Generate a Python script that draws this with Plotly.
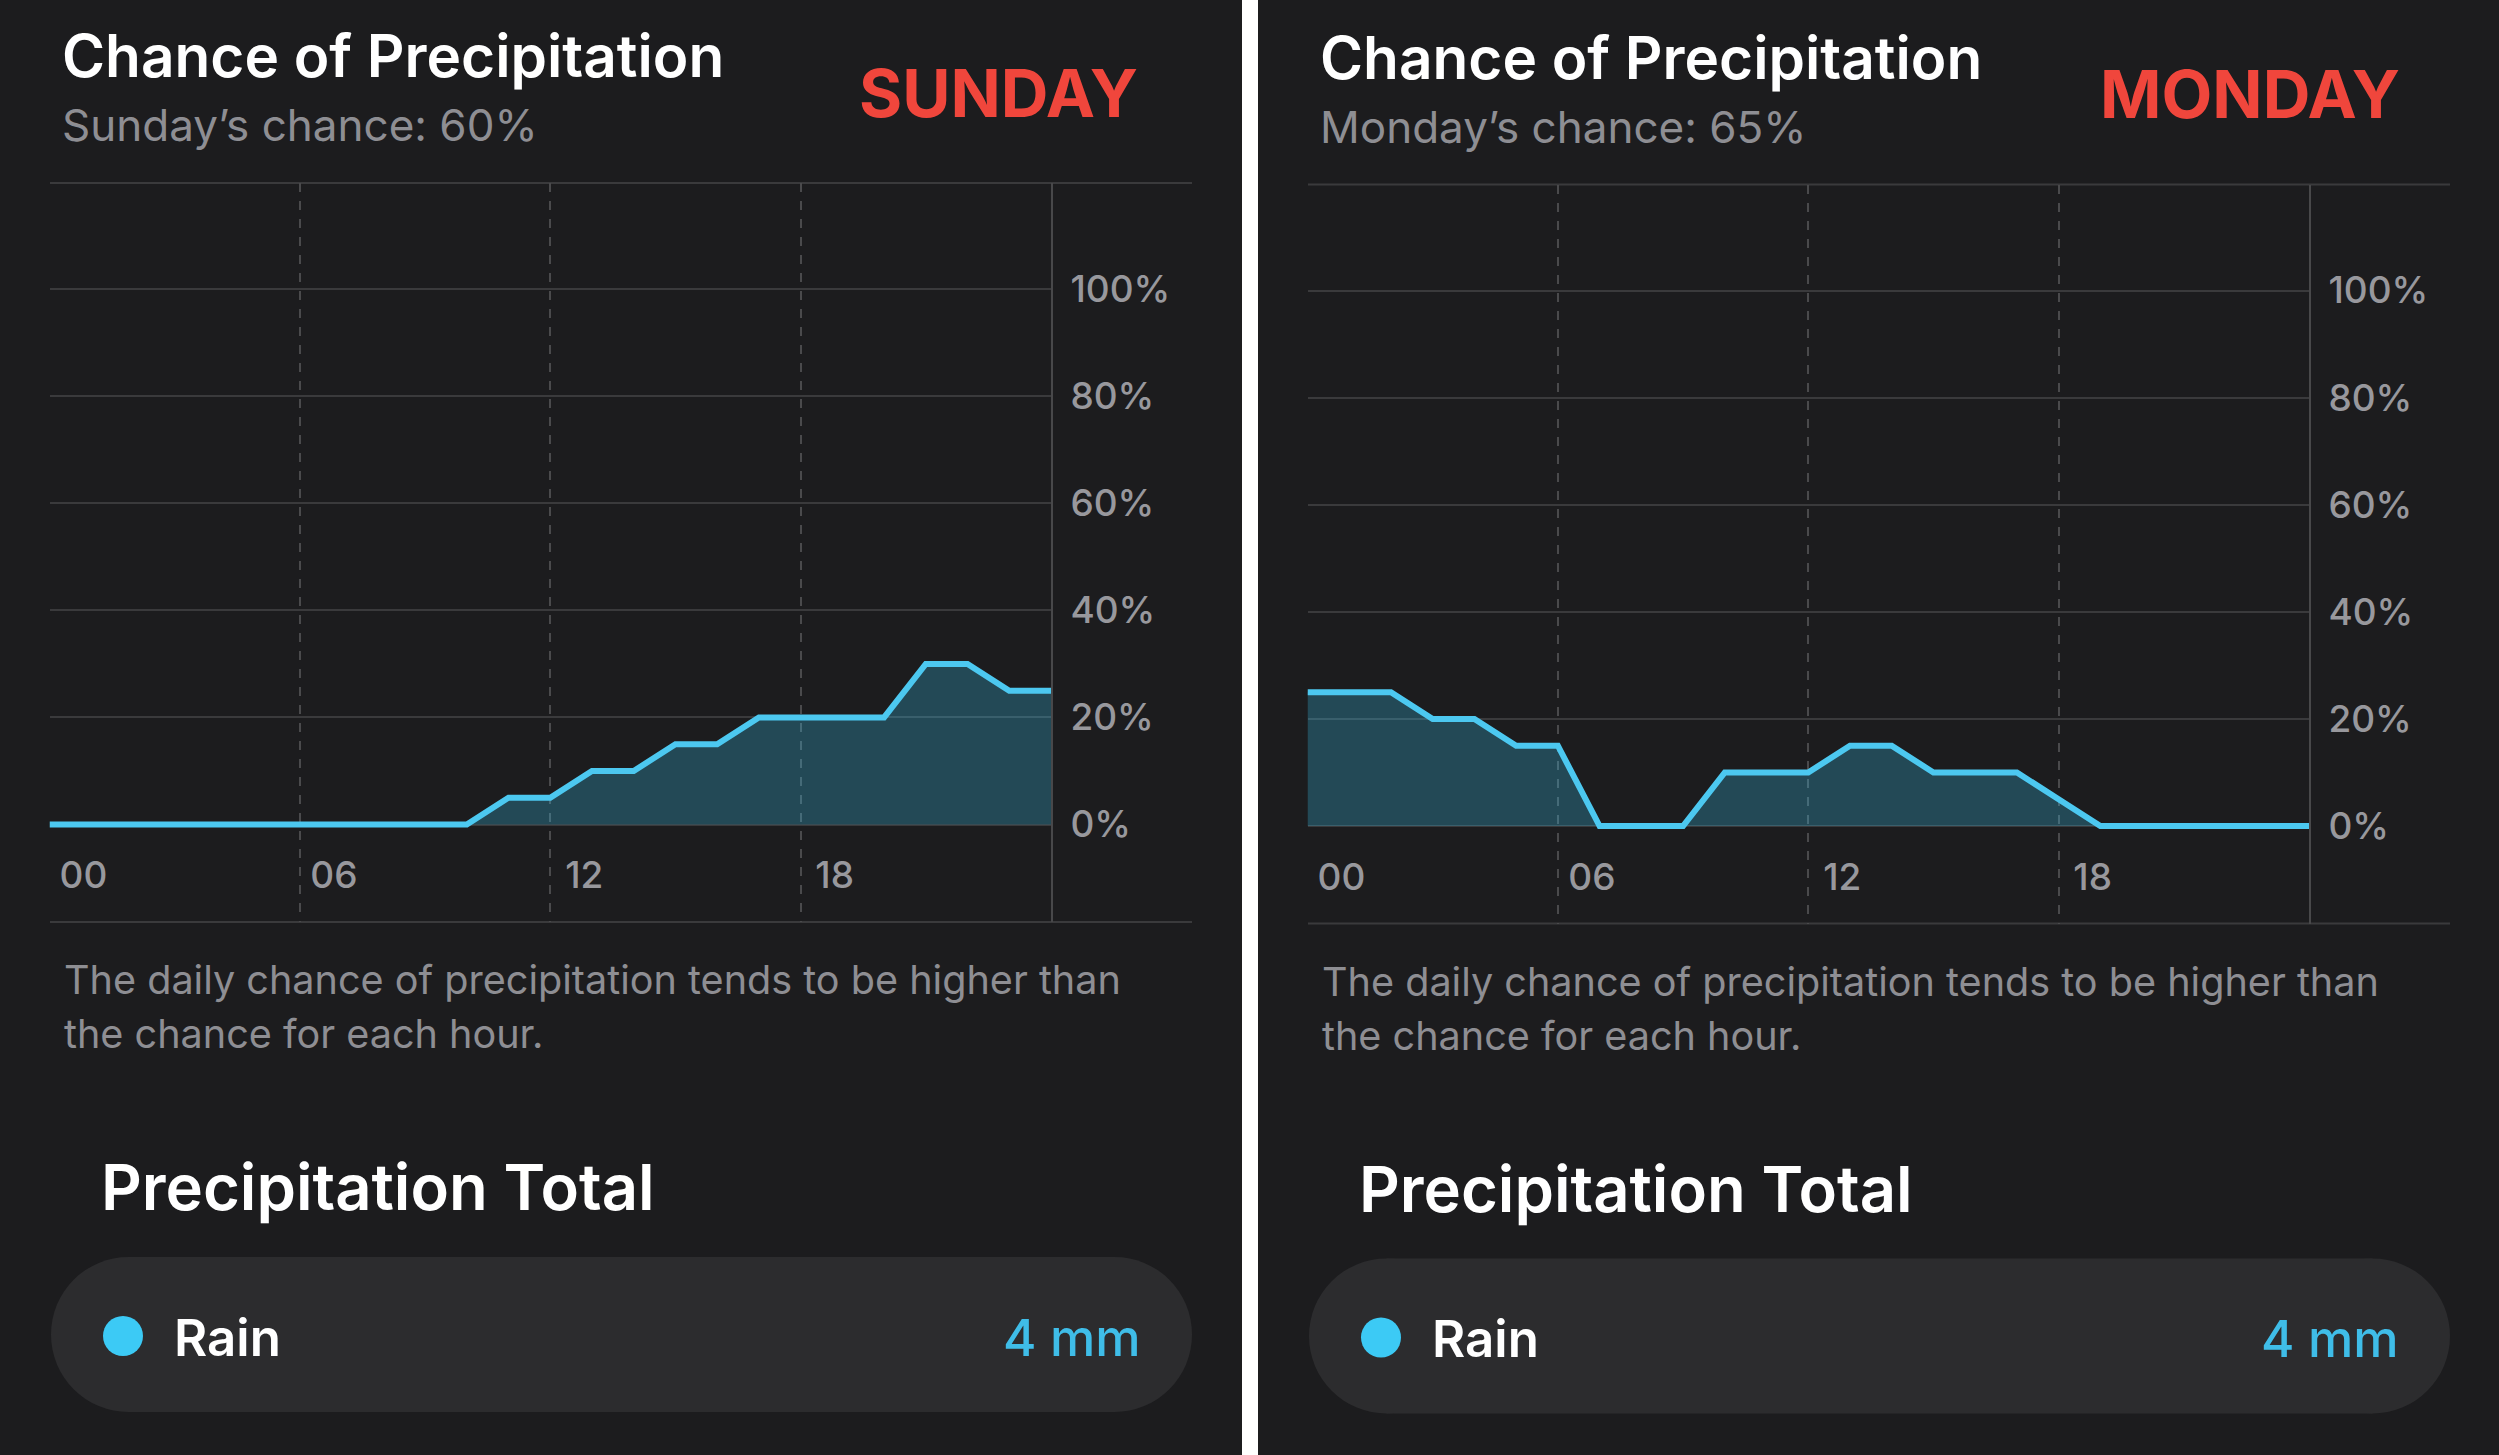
import plotly.graph_objects as go

W, H = 2499, 1455

# hourly chance of precipitation (%)
hours = list(range(25))
sunday_chance = [0, 0, 0, 0, 0, 0, 0, 0, 0, 0, 0, 5, 5, 10, 10, 15, 15, 20, 20, 20, 20, 30, 30, 25, 25]
monday_chance = [25, 25, 25, 20, 20, 15, 15, 0, 0, 0, 10, 10, 10, 15, 15, 10, 10, 10, 5, 0, 0, 0, 0, 0, 0]

day_names = ["SUNDAY", "MONDAY"]
daily_text = ["Sunday\u2019s chance: 60%", "Monday\u2019s chance: 65%"]
rain_total = ["4 mm", "4 mm"]

x_tick_vals = [0, 6, 12, 18]
x_tick_text = ["00", "06", "12", "18"]
y_tick_vals = [0, 20, 40, 60, 80, 100]
y_tick_text = ["0%", "20%", "40%", "60%", "80%", "100%"]

BG = "#1c1c1e"
PILL = "#2c2c2e"
GRID = "#3a3a3c"
TICK = "#98989d"
LINE = "#4cc8f0"
FONT = "Inter"


def px(x):
    return x / W


def py(y):
    return 1 - y / H


def label(text, x, y, anchor, size, color, weight=400):
    return dict(text=text, x=px(x), y=py(y), xref="paper", yref="paper",
                xanchor=anchor, yanchor="middle", showarrow=False,
                font=dict(family=FONT, size=size, color=color, weight=weight))


fig = go.Figure()
annotations = []
shapes = []

panel_shift = [0, 1258]
day_right = [1140, 1144]
series = [sunday_chance, monday_chance]

for i in range(2):
    dx = panel_shift[i]
    dy = 1.5 * i
    xa = "xaxis" if i == 0 else "xaxis2"
    ya = "yaxis" if i == 0 else "yaxis2"
    xr = "x" if i == 0 else "x2"
    yr = "y" if i == 0 else "y2"

    fig.add_trace(go.Scatter(
        x=hours, y=series[i], xaxis=xr, yaxis=yr, mode="lines",
        line=dict(color=LINE, width=6), fill="tozeroy",
        fillcolor="rgba(55,195,240,0.27)", hoverinfo="skip", showlegend=False,
    ))

    top, bottom = 183 + dy, 922 + dy
    fig.layout[xa] = dict(
        domain=[px(49.5 + dx), px(1051 + dx)], range=[0, 24],
        anchor="free", position=py(850 + dy),
        tickvals=x_tick_vals, ticktext=x_tick_text, ticks="",
        tickfont=dict(family=FONT, size=37, color=TICK, weight=500), ticklabelshift=34,
        showgrid=False, zeroline=False, showline=False, fixedrange=True,
        minor=dict(tickvals=[6, 12, 18], showgrid=True, gridcolor="#4a4a4c",
                   griddash="dash", gridwidth=2, ticks=""),
    )
    fig.layout[ya] = dict(
        domain=[py(bottom), py(top)], range=[-18.2, 119.8], anchor=xr,
        side="right", tickvals=y_tick_vals, ticktext=y_tick_text, ticks="",
        ticklabelstandoff=10,
        tickfont=dict(family=FONT, size=37, color=TICK, weight=500),
        showgrid=True, gridcolor=GRID, gridwidth=2, zeroline=False,
        showline=True, linecolor="#48484a", linewidth=2, fixedrange=True,
    )

    # top and bottom rules of the chart box
    for yy in (top, bottom):
        shapes.append(dict(type="line", xref="paper", yref="paper",
                           x0=px(50 + dx), x1=px(1192 + dx), y0=py(yy), y1=py(yy),
                           line=dict(color=GRID, width=2), layer="below"))

    # texts
    annotations += [
        label("Chance of Precipitation", 60 + dx, 56 + dy, "left", 58.5, "white", 600),
        label(daily_text[i], 60 + dx, 125 + dy, "left", 44, "#8e8e93"),
        label(day_names[i], day_right[i] + dx, 93 + dy, "right", 66, "#f0463c", 700),
        label("The daily chance of precipitation tends to be higher than",
              62 + dx, 980 + dy, "left", 39.6, "#8e8e93"),
        label("the chance for each hour.", 62 + dx, 1034 + dy, "left", 39.6, "#8e8e93"),
        label("Precipitation Total", 99 + dx, 1187 + dy, "left", 63.3, "white", 600),
        label("Rain", 172 + dx, 1337 + dy, "left", 51, "white", 600),
        label(rain_total[i], 1143 + dx, 1337 + dy, "right", 51, "#3fbde8", 500),
    ]

    # rain pill: two end circles plus a rectangle
    p0, p1, pt, pb = 51 + dx, 1192 + dx, 1257 + dy, 1412 + dy
    r = (pb - pt) / 2
    shapes += [
        dict(type="circle", xref="paper", yref="paper", x0=px(p0), x1=px(p0 + 2 * r),
             y0=py(pb), y1=py(pt), fillcolor=PILL, line_width=0, layer="below"),
        dict(type="circle", xref="paper", yref="paper", x0=px(p1 - 2 * r), x1=px(p1),
             y0=py(pb), y1=py(pt), fillcolor=PILL, line_width=0, layer="below"),
        dict(type="rect", xref="paper", yref="paper", x0=px(p0 + r), x1=px(p1 - r),
             y0=py(pb), y1=py(pt), fillcolor=PILL, line_width=0, layer="below"),
        dict(type="circle", xref="paper", yref="paper", x0=px(103 + dx), x1=px(143 + dx),
             y0=py(1356 + dy), y1=py(1316 + dy), fillcolor="#3ccaf5", line_width=0),
    ]

# white divider between the two cards
shapes.append(dict(type="rect", xref="paper", yref="paper", x0=px(1242), x1=px(1258),
                   y0=0, y1=1, fillcolor="white", line_width=0))

fig.update_layout(
    width=W, height=H, autosize=False,
    margin=dict(l=0, r=0, t=0, b=0),
    paper_bgcolor=BG, plot_bgcolor="rgba(0,0,0,0)",
    showlegend=False, annotations=annotations, shapes=shapes,
    font=dict(family=FONT),
)

fig.write_html("out.html", config={"displayModeBar": False},
               post_script="document.body.style.margin='0';"
                           "document.body.style.background='#1c1c1e';")
